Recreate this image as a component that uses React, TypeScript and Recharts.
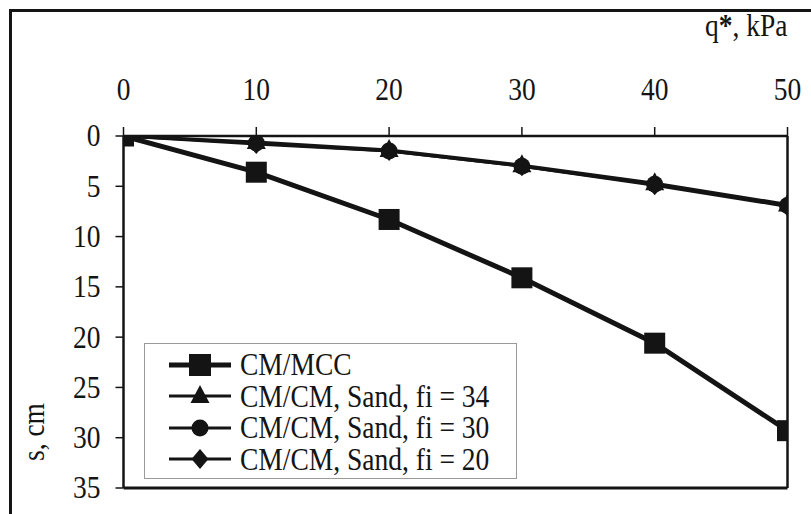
import { LineChart, Line, XAxis, YAxis, Legend } from 'recharts'

// applied load q*, kPa
const loads = [0, 10, 20, 30, 40, 50]

// settlement s, cm
const cmMcc = [0, 3.6, 8.3, 14.1, 20.6, 29.3]
const sandFi34 = [0, 0.6, 1.4, 2.9, 4.7, 6.8]
const sandFi30 = [0, 0.7, 1.5, 3.0, 4.8, 6.9]
const sandFi20 = [0, 0.8, 1.5, 3.0, 4.9, 7.0]

const seriesNames = ['CM/MCC', 'CM/CM, Sand, fi = 34', 'CM/CM, Sand, fi = 30', 'CM/CM, Sand, fi = 20']

const xTicks = [0, 10, 20, 30, 40, 50]
const xMinorTicks = [2, 4, 6, 8, 12, 14, 16, 18, 22, 24, 26, 28, 32, 34, 36, 38, 42, 44, 46, 48]
const yTicks = [0, 5, 10, 15, 20, 25, 30, 35]
const yMinorTicks = [
  0, 1, 2, 3, 4, 5, 6, 7, 8, 9, 10, 11, 12, 13, 14, 15, 16, 17,
  18, 19, 20, 21, 22, 23, 24, 25, 26, 27, 28, 29, 30, 31, 32, 33, 34, 35,
]

const data = loads.map((q, i) => ({
  q,
  mcc: cmMcc[i],
  fi34: sandFi34[i],
  fi30: sandFi30[i],
  fi20: sandFi20[i],
}))

const INK = '#141414'
const FONT = 'Liberation Serif, serif'
const FS = 27.5
const STRETCH = 1.12 // the scanned figure's type is a little taller than it is wide

type MarkerKind = 'square' | 'triangle' | 'circle' | 'diamond'

function Marker({ kind, cx, cy, big }: { kind: MarkerKind; cx: number; cy: number; big?: boolean }) {
  if (kind === 'square') {
    const s = big ? 22 : 21
    return <rect x={cx - s / 2} y={cy - s / 2} width={s} height={s} fill={INK} />
  }
  if (kind === 'triangle') {
    return <polygon points={`${cx},${cy - 11} ${cx - 9.5},${cy + 7} ${cx + 9.5},${cy + 7}`} fill={INK} />
  }
  if (kind === 'circle') {
    return <circle cx={cx} cy={cy} r={8.5} fill={INK} />
  }
  return <polygon points={`${cx},${cy - 10} ${cx + 8.5},${cy} ${cx},${cy + 10} ${cx - 8.5},${cy}`} fill={INK} />
}

const series: { key: string; name: string; marker: MarkerKind; width: number }[] = [
  { key: 'fi20', name: seriesNames[3], marker: 'diamond', width: 3 },
  { key: 'fi30', name: seriesNames[2], marker: 'circle', width: 3 },
  { key: 'fi34', name: seriesNames[1], marker: 'triangle', width: 3 },
  { key: 'mcc', name: seriesNames[0], marker: 'square', width: 5 },
]

const legendOrder = ['mcc', 'fi34', 'fi30', 'fi20']

function LegendBox() {
  return (
    <div style={{ paddingTop: 5, paddingLeft: 24 }}>
      {legendOrder.map((k) => {
        const s = series.find((e) => e.key === k)!
        return (
          <div key={k} style={{ display: 'flex', alignItems: 'center', height: 31.5 }}>
            <svg width={62} height={30} style={{ display: 'block' }}>
              <line x1={0} x2={62} y1={15} y2={15} stroke={INK} strokeWidth={s.width} />
              <Marker kind={s.marker} cx={31} cy={15} big />
            </svg>
            <span
              style={{
                marginLeft: 9,
                fontFamily: FONT,
                fontSize: FS,
                color: INK,
                lineHeight: '31.5px',
                display: 'inline-block',
                whiteSpace: 'nowrap',
                transform: `scaleY(${STRETCH})`,
              }}
            >
              {s.name}
            </span>
          </div>
        )
      })}
    </div>
  )
}

// top axis tick: baseline sits at y
function TopTick({ x, y, payload }: any) {
  return (
    <g transform={`translate(${x},${y}) scale(1,${STRETCH})`}>
      <text x={0} y={0} textAnchor="middle" fontFamily={FONT} fontSize={FS} fill={INK}>
        {payload.value}
      </text>
    </g>
  )
}

// left axis tick: vertically centred on y, right aligned at x
function LeftTick({ x, y, payload }: any) {
  return (
    <g transform={`translate(${x},${y}) scale(1,${STRETCH})`}>
      <text x={0} y={0} dy="0.34em" textAnchor="end" fontFamily={FONT} fontSize={FS} fill={INK}>
        {payload.value}
      </text>
    </g>
  )
}

export default function App() {
  return (
    <div style={{ position: 'absolute', left: 0, top: 0, width: 811, height: 514, background: '#fff', overflow: 'hidden' }}>
      <div
        style={{
          position: 'absolute',
          left: 9,
          top: 9,
          right: -10,
          bottom: -10,
          borderTop: `3px solid ${INK}`,
          borderLeft: `3px solid ${INK}`,
        }}
      />
      <LineChart width={811} height={514} data={data} margin={{ top: 0, right: 23.5, bottom: 26, left: 0 }}>
        <XAxis
          xAxisId="main"
          orientation="top"
          type="number"
          dataKey="q"
          domain={[0, 50]}
          allowDataOverflow
          ticks={xTicks}
          height={136}
          tickSize={9}
          tickMargin={27}
          tick={<TopTick />}
          axisLine={{ stroke: INK, strokeWidth: 2.5 }}
          tickLine={{ stroke: INK, strokeWidth: 1.5 }}
          label={({ viewBox }: any) => {
            const x = viewBox.x + viewBox.width
            const y = viewBox.y + 36
            return (
              <g transform={`translate(${x},${y}) scale(1,${STRETCH})`}>
                <text x={0} y={0} textAnchor="end" fontFamily={FONT} fontSize={FS} fill={INK}>
                  q<tspan fontWeight="bold">*</tspan>, kPa
                </text>
              </g>
            )
          }}
        />
        <XAxis
          xAxisId="minor"
          orientation="top"
          type="number"
          dataKey="q"
          domain={[0, 50]}
          allowDataOverflow
          ticks={xMinorTicks}
          mirror
          height={10}
          tickSize={5}
          tick={false}
          axisLine={false}
          tickLine={{ stroke: '#555', strokeWidth: 1 }}
        />
        <XAxis
          xAxisId="frame"
          orientation="bottom"
          type="number"
          dataKey="q"
          domain={[0, 50]}
          allowDataOverflow
          mirror
          height={10}
          ticks={[]}
          tick={false}
          tickLine={false}
          axisLine={{ stroke: INK, strokeWidth: 3 }}
        />
        <YAxis
          yAxisId="main"
          type="number"
          domain={[0, 35]}
          allowDataOverflow
          reversed
          ticks={yTicks}
          width={123.5}
          tickSize={8}
          tickMargin={15}
          tick={<LeftTick />}
          axisLine={{ stroke: INK, strokeWidth: 2.5 }}
          tickLine={{ stroke: INK, strokeWidth: 1.5 }}
          label={({ viewBox }: any) => {
            const x = viewBox.x + 35
            const y = viewBox.y + 296
            return (
              <g transform={`translate(${x},${y}) rotate(-90) scale(1,${STRETCH})`}>
                <text x={0} y={0} dy="0.3em" textAnchor="middle" fontFamily={FONT} fontSize={FS} fill={INK}>
                  s, cm
                </text>
              </g>
            )
          }}
        />
        <YAxis
          yAxisId="minor"
          type="number"
          domain={[0, 35]}
          allowDataOverflow
          reversed
          ticks={yMinorTicks}
          mirror
          width={10}
          tickSize={6}
          tick={false}
          axisLine={false}
          tickLine={{ stroke: '#555', strokeWidth: 1 }}
        />
        <YAxis
          yAxisId="frame"
          orientation="right"
          type="number"
          domain={[0, 35]}
          allowDataOverflow
          reversed
          mirror
          width={10}
          ticks={[]}
          tick={false}
          tickLine={false}
          axisLine={{ stroke: INK, strokeWidth: 2.5 }}
        />
        <Legend
          layout="vertical"
          align="center"
          verticalAlign="middle"
          content={() => <LegendBox />}
          wrapperStyle={{
            left: 144,
            top: 343,
            width: 373,
            height: 136,
            border: '1px solid #9a9a9a',
            background: '#fff',
            boxSizing: 'border-box',
          }}
        />
        {series.map((s) => (
          <Line
            key={s.key}
            xAxisId="main"
            yAxisId="main"
            dataKey={s.key}
            name={s.name}
            type="linear"
            stroke={INK}
            strokeWidth={s.width}
            isAnimationActive={false}
            activeDot={false}
            dot={(p: any) => <Marker key={`${s.key}-${p.index}`} kind={s.marker} cx={p.cx} cy={p.cy} />}
          />
        ))}
      </LineChart>
    </div>
  )
}
